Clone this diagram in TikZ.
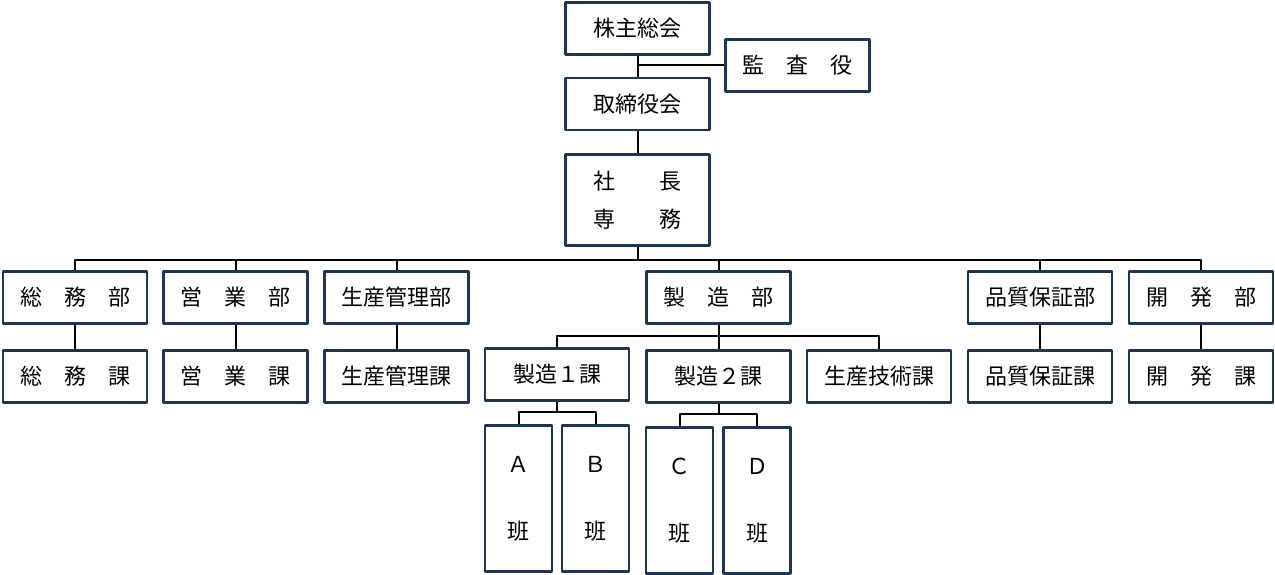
\documentclass[tikz,border=0pt]{standalone}
\usepackage{fontspec}
\newfontfamily\jp{Noto Sans CJK JP}
\definecolor{navy}{HTML}{1F3555}
\begin{document}
\begin{tikzpicture}[x=1pt, y=-1pt, line join=round]
				\tikzset{box/.style={draw=navy, line width=2.3pt, minimum width=144pt, minimum height=52pt, inner sep=0pt, align=center, font=\jp\fontsize{22}{25}\selectfont},
					han/.style={box, minimum width=67pt, minimum height=146pt},
					link/.style={line width=2pt}}
				\useasboundingbox (0,0) rectangle (1275,575);
				% top
				\node[box] (kabu) at (637.5,28.5) {株主総会};
				\node[box] (kansa) at (797.5,65.5) {監　査　役};
				\node[box] (tori) at (637.5,104) {取締役会};
				\node[box, minimum height=91pt] (shacho) at (637.5,200) {社　　長\\[13pt]専　　務};
				% departments
				\node[box] (soumubu) at (75,297.5) {総　務　部};
				\node[box] (eigyobu) at (235.5,297.5) {営　業　部};
				\node[box] (kanribu) at (396.5,297.5) {生産管理部};
				\node[box] (seizobu) at (718.5,297.5) {製　造　部};
				\node[box] (hinbu) at (1040,297.5) {品質保証部};
				\node[box] (kaibu) at (1201,297.5) {開　発　部};
				% sections
				\node[box] (soumuka) at (75,376.5) {総　務　課};
				\node[box] (eigyoka) at (235.5,376.5) {営　業　課};
				\node[box] (kanrika) at (396.5,376.5) {生産管理課};
				\node[box] (seizo1) at (557,374.5) {製造１課};
				\node[box] (seizo2) at (718.5,376.5) {製造２課};
				\node[box] (gijutsu) at (879,376.5) {生産技術課};
				\node[box] (hinka) at (1040,376.5) {品質保証課};
				\node[box] (kaika) at (1201,376.5) {開　発　課};
				% teams
				\node[han] (hanA) at (518.5,498.5) {Ａ\\[42pt]班};
				\node[han] (hanB) at (595.5,498.5) {Ｂ\\[42pt]班};
				\node[han] (hanC) at (679.5,500.5) {Ｃ\\[42pt]班};
				\node[han] (hanD) at (757,500.5) {Ｄ\\[42pt]班};
				% connectors
				\draw[link] (kabu)--(tori) (tori)--(shacho);
				\draw[link] (kansa.west)--(kansa.west-|kabu.south);
				\draw[link] (shacho.south)--++(0,13) coordinate (bus);
				\foreach \i in {soumubu,eigyobu,kanribu,seizobu,hinbu,kaibu}
				\draw[link] (bus)-|(\i.north);
				\foreach \i/\g in {soumubu/soumuka,eigyobu/eigyoka,kanribu/kanrika,hinbu/hinka,kaibu/kaika}
				\draw[link] (\i)--(\g);
				\draw[link] (seizobu.south)--++(0,11) coordinate (sbus);
				\foreach \i in {seizo1,seizo2,gijutsu}
				\draw[link] (sbus)-|(\i.north);
				\draw[link] (seizo1.south)--++(0,10) coordinate (b1);
				\draw[link] (seizo2.south)--++(0,10) coordinate (b2);
				\foreach \i/\g in {b1/hanA,b1/hanB,b2/hanC,b2/hanD}
				\draw[link] (\i)-|(\g.north);
		\end{tikzpicture}
\end{document}
